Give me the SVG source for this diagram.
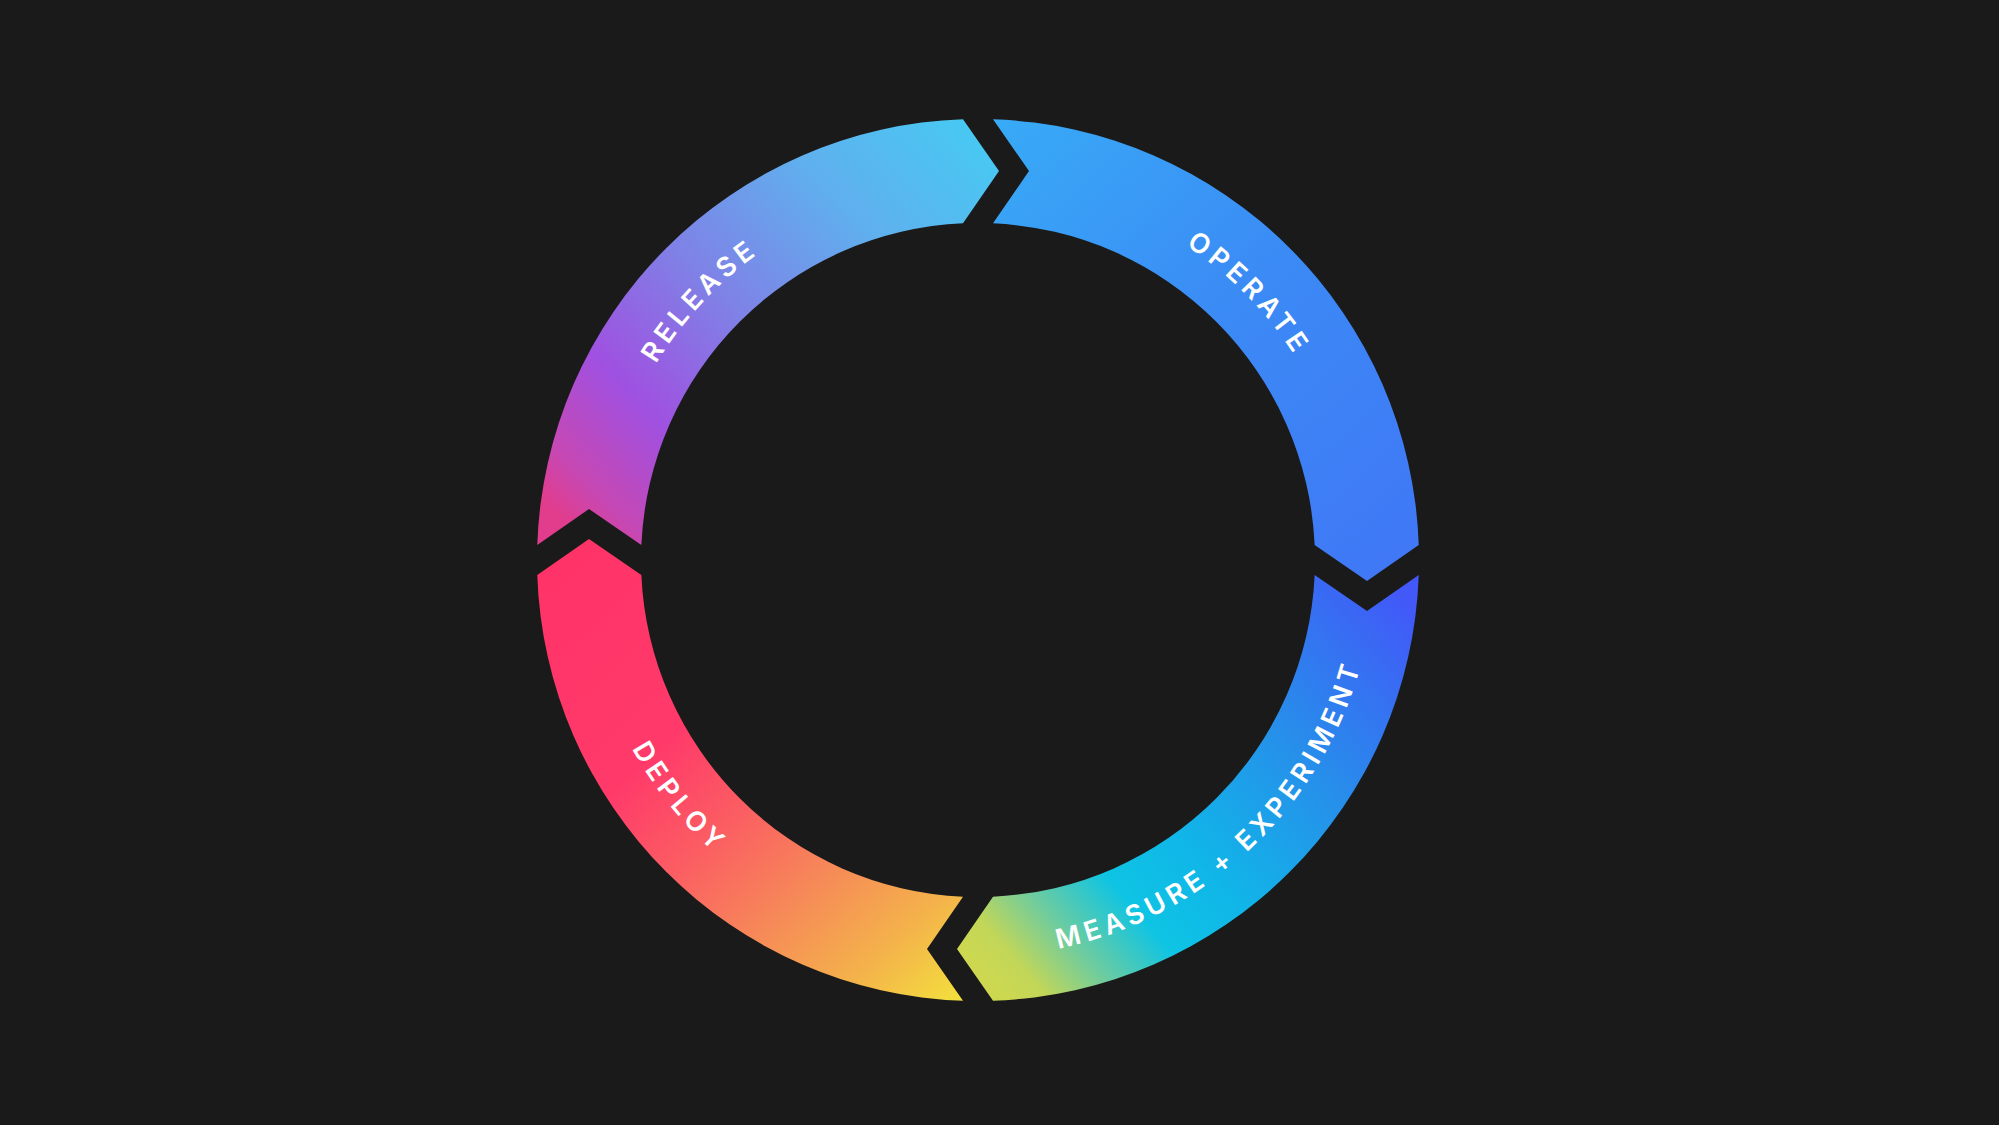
<svg xmlns="http://www.w3.org/2000/svg" width="1999" height="1125" viewBox="0 0 1999 1125">
  <style>
    .lbl { font-family: Inter, "Liberation Sans", "DejaVu Sans", sans-serif; font-size: 27px; font-weight: 600; fill: #ffffff; letter-spacing: 5px; }
  </style>
  <defs>
    <linearGradient id="gRelease" gradientUnits="userSpaceOnUse" x1="580" y1="540" x2="990" y2="150">
      <stop offset="0" stop-color="#e23c8c"/>
      <stop offset="0.08" stop-color="#c648b4"/>
      <stop offset="0.24" stop-color="#a050e0"/>
      <stop offset="0.47" stop-color="#8080e6"/>
      <stop offset="0.75" stop-color="#5fb0ee"/>
      <stop offset="1" stop-color="#48c8f2"/>
    </linearGradient>
    <linearGradient id="gOperate" gradientUnits="userSpaceOnUse" x1="993" y1="130" x2="1390" y2="560">
      <stop offset="0" stop-color="#38aaf6"/>
      <stop offset="0.5" stop-color="#3b8af5"/>
      <stop offset="1" stop-color="#4078f6"/>
    </linearGradient>
    <linearGradient id="gMeasure" gradientUnits="userSpaceOnUse" x1="1400" y1="590" x2="970" y2="960">
      <stop offset="0" stop-color="#4258f8"/>
      <stop offset="0.33" stop-color="#2690ea"/>
      <stop offset="0.58" stop-color="#10b6e8"/>
      <stop offset="0.72" stop-color="#0ec4e4"/>
      <stop offset="0.84" stop-color="#6ccca0"/>
      <stop offset="0.94" stop-color="#c2d658"/>
      <stop offset="1" stop-color="#cdd850"/>
    </linearGradient>
    <linearGradient id="gDeploy" gradientUnits="userSpaceOnUse" x1="960" y1="990" x2="560" y2="560">
      <stop offset="0" stop-color="#f3dc3e"/>
      <stop offset="0.13" stop-color="#f4b44a"/>
      <stop offset="0.3" stop-color="#f68a58"/>
      <stop offset="0.47" stop-color="#fb5f62"/>
      <stop offset="0.65" stop-color="#ff3a6a"/>
      <stop offset="1" stop-color="#ff3368"/>
    </linearGradient>
    <path id="tpRelease" d="M 601.52,540.27 A 377 377 0 0 1 932.05,185.81"/>
    <path id="tpOperate" d="M 1014.13,184.74 A 377 377 0 0 1 1353.84,530.42"/>
    <path id="tpMeasure" d="M 966.22,956.83 A 397 397 0 0 0 1374.83,571.78"/>
    <path id="tpDeploy" d="M 584.13,549.69 A 394 394 0 0 0 899.45,946.09"/>
  </defs>
  <rect x="0" y="0" width="1999" height="1125" fill="#1a1a1a"/>

  <g id="release">
    <path d="M 537.255,545 A 441 441 0 0 1 963,119.255 L 999,171 L 963,223.334 A 337 337 0 0 0 641.334,545 L 589,509 Z" fill="url(#gRelease)"/>
    <text class="lbl"><textPath href="#tpRelease" startOffset="50%" text-anchor="middle">RELEASE</textPath></text>
  </g>

  <g id="operate">
    <path d="M 993,119.255 A 441 441 0 0 1 1418.745,545 L 1367,581 L 1314.666,545 A 337 337 0 0 0 993,223.334 L 1029,171 Z" fill="url(#gOperate)"/>
    <text class="lbl"><textPath href="#tpOperate" startOffset="50%" text-anchor="middle">OPERATE</textPath></text>
  </g>

  <g id="measure">
    <path d="M 1418.745,575 A 441 441 0 0 1 993,1000.745 L 957,949 L 993,896.666 A 337 337 0 0 0 1314.666,575 L 1367,611 Z" fill="url(#gMeasure)"/>
    <text class="lbl"><textPath href="#tpMeasure" startOffset="50%" text-anchor="middle">MEASURE + EXPERIMENT</textPath></text>
  </g>

  <g id="deploy">
    <path d="M 963,1000.745 A 441 441 0 0 1 537.255,575 L 589,539 L 641.334,575 A 337 337 0 0 0 963,896.666 L 927,949 Z" fill="url(#gDeploy)"/>
    <text class="lbl"><textPath href="#tpDeploy" startOffset="50%" text-anchor="middle">DEPLOY</textPath></text>
  </g>

  <g id="connectors"></g>
</svg>
